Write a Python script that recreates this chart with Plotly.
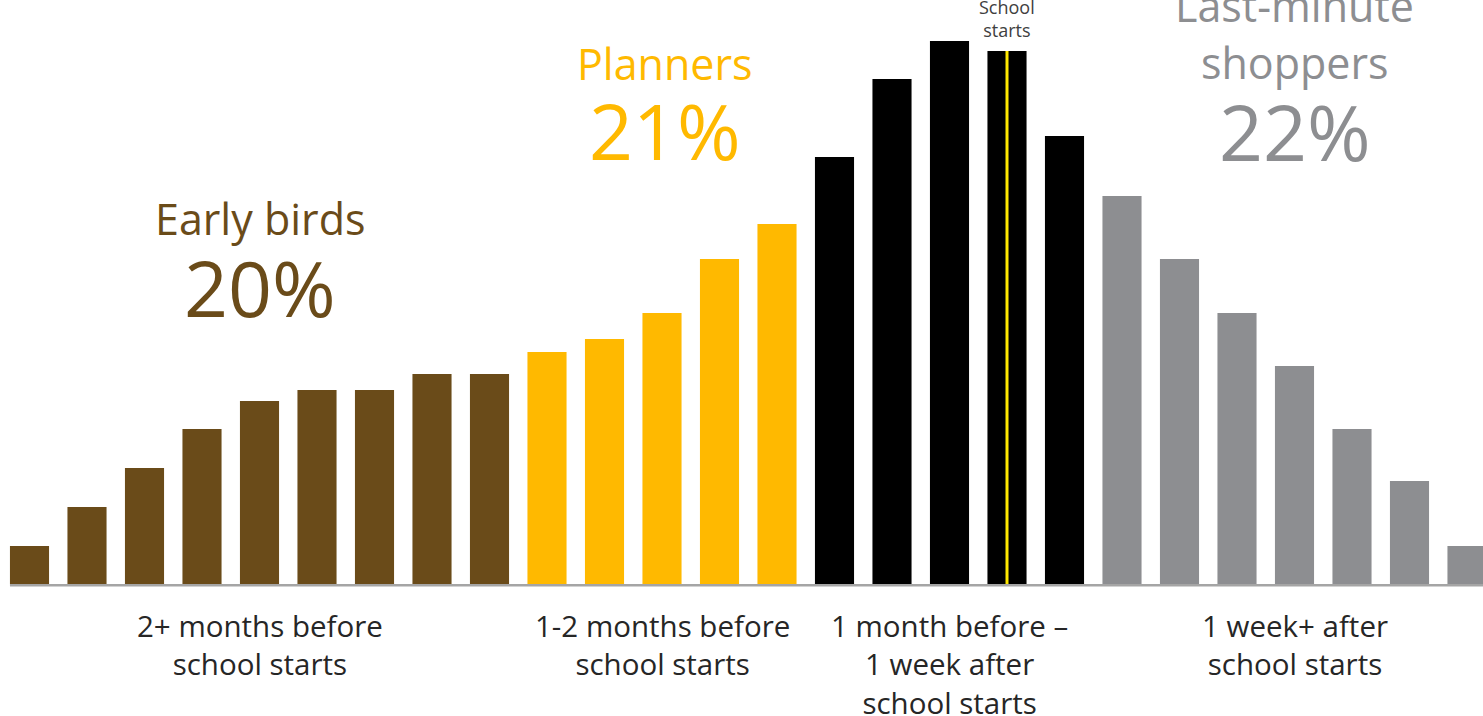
import plotly.graph_objects as go

# ---- data (relative share of shoppers per week) ----
early_birds = [38, 77, 116, 155, 183, 194, 194, 210, 210]
planners = [232, 245, 271, 325, 360]
around_start = [427, 505, 543, 533, 448]
last_minute = [388, 325, 271, 218, 155, 103, 38]

group_names = ["Early birds", "Planners", "Around school start", "Last-minute<br>shoppers"]
group_shares = ["20%", "21%", "", "22%"]
group_labels = [
    "2+ months before<br>school starts",
    "1-2 months before<br>school starts",
    "1 month before –<br>1 week after<br>school starts",
    "1 week+ after<br>school starts",
]
group_colors = ["#6A4B19", "#FFB900", "#000000", "#8D8E91"]
school_start_week = 17  # bar index where school starts

series = [early_birds, planners, around_start, last_minute]

fig = go.Figure()
start = 0
centers = []
for vals, col, name in zip(series, group_colors, group_names):
    xs = list(range(start, start + len(vals)))
    fig.add_trace(go.Bar(x=xs, y=vals, marker=dict(color=col, line=dict(width=0)),
                         width=0.68, name=name, showlegend=False))
    centers.append((xs[0] + xs[-1]) / 2)
    start += len(vals)

all_vals = early_birds + planners + around_start + last_minute
FONT = "Open Sans"
BASE = 584  # baseline pixel row


def py(p):
    """convert a pixel row to the y data scale (1 unit = 1 px)"""
    return BASE - p


# baseline
fig.add_shape(type="line", xref="x", yref="y", x0=-0.34, x1=26, y0=-1.3, y1=-1.3,
              line=dict(color="#A5A5A5", width=2.6), layer="below")
# school starts line
fig.add_shape(type="line", xref="x", yref="y", x0=school_start_week, x1=school_start_week,
              y0=0, y1=all_vals[school_start_week], line=dict(color="#FFE800", width=3))

ann = []
# school starts text
ann.append(dict(x=school_start_week, y=py(18), text="School<br>starts", showarrow=False,
                xanchor="center", yanchor="middle",
                font=dict(family=FONT, size=18, color="#404040")))

# bottom category labels
for c, lab in zip(centers, group_labels):
    ann.append(dict(x=c, y=py(603), text=lab, showarrow=False, xanchor="center", yanchor="top",
                    font=dict(family=FONT, size=29.5, color="#262626")))

# group titles: (name line y pixels, share y pixel)
title_pos = {
    0: ([218], 287),
    1: ([63], 130),
    3: ([5, 62], 131),
}
for gi, (name_ys, share_y) in title_pos.items():
    lines = group_names[gi].split("<br>")
    dx = 0.05 if gi == 1 else 0
    for line, p in zip(lines, name_ys):
        ann.append(dict(x=centers[gi] + dx, y=py(p), text=line,
                        showarrow=False, xanchor="center", yanchor="middle",
                        font=dict(family=FONT, size=43, color=group_colors[gi])))
    ann.append(dict(x=centers[gi] + dx, y=py(share_y), text=group_shares[gi],
                    showarrow=False, xanchor="center", yanchor="middle",
                    font=dict(family=FONT, size=77, color=group_colors[gi])))

fig.update_layout(
    width=1483, height=716,
    margin=dict(l=0, r=0, t=0, b=0),
    paper_bgcolor="white", plot_bgcolor="white",
    barmode="overlay",
    annotations=ann,
    xaxis=dict(range=[-29.5 / 57.5, (1483 - 29.5) / 57.5], visible=False, fixedrange=True),
    yaxis=dict(range=[py(716), py(0)], visible=False, fixedrange=True),
)

fig.write_html("out.html")
